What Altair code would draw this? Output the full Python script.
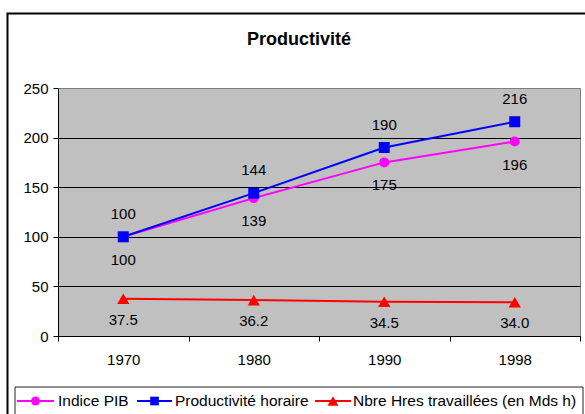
import altair as alt
import pandas as pd

years = ["1970", "1980", "1990", "1998"]
series = ["Indice PIB", "Productivité horaire", "Nbre Hres travaillées (en Mds h)"]
indice_pib = [100, 139, 175, 196]
productivite = [100, 144, 190, 216]
heures = [37.5, 36.2, 34.5, 34.0]
y_ticks = [0, 50, 100, 150, 200, 250]
title_text = "Productivité"

colors = ["#FF00FF", "#0000FF", "#FF0000"]
shapes = ["circle", "square", "triangle-up"]
marker_sizes = [100, 121, 150]
legend_sizes = [80, 75, 120]
label_dy = [23, -23, 21]
formats = ["{:.0f}", "{:.0f}", "{:.1f}"]

rows = []
for s, vals, fmt in zip(series, [indice_pib, productivite, heures], formats):
    for yr, v in zip(years, vals):
        rows.append({"year": yr, "series": s, "value": v, "label": fmt.format(v)})
df = pd.DataFrame(rows)

FONT = "Liberation Sans"
W, H = 522, 248

x_enc = alt.X(
    "year:N", sort=years,
    scale=alt.Scale(paddingInner=0, paddingOuter=0),
    axis=alt.Axis(title=None, labelAngle=0, tickBand="extent", grid=False,
                  tickSize=5, labelPadding=11, labelFontSize=15, labelFont=FONT,
                  labelColor="black", domainColor="black", tickColor="black"),
)
y_enc = alt.Y(
    "value:Q",
    scale=alt.Scale(domain=[0, 250], nice=False, zero=True),
    axis=alt.Axis(title=None, values=y_ticks, grid=True,
                  gridColor={"condition": {"test": "datum.value === 250", "value": "#808080"}, "value": "black"},
                  gridWidth=1, tickSize=5, labelPadding=5, labelFontSize=15,
                  labelFont=FONT, labelColor="black", domainColor="black", tickColor="black"),
)
color_enc = alt.Color("series:N", scale=alt.Scale(domain=series, range=colors), legend=None)

base = alt.Chart(df)
layers = []

one = pd.DataFrame({"k": [0]})
# outer frame
layers.append(
    alt.Chart(one).mark_rect(fillOpacity=0, stroke="black", strokeWidth=2).encode(
        x=alt.value(-50.5), x2=alt.value(560), y=alt.value(-74.5), y2=alt.value(420))
)

layers.append(base.mark_line(strokeWidth=2).encode(x=x_enc, y=y_enc, color=color_enc, detail="series:N"))

for i, s in enumerate(series):
    sub = base.transform_filter(alt.datum.series == s)
    layers.append(sub.mark_point(shape=shapes[i], filled=True, size=marker_sizes[i],
                                 color=colors[i], opacity=1).encode(x=x_enc, y=y_enc))
    layers.append(sub.mark_text(dy=label_dy[i], fontSize=15, font=FONT, color="black",
                                baseline="middle").encode(x=x_enc, y=y_enc, text="label:N"))

# title
layers.append(
    alt.Chart(one).mark_text(text=title_text, fontSize=18, fontWeight="bold", font=FONT,
                             color="black", baseline="alphabetic").encode(
        x=alt.value(241), y=alt.value(-43))
)

# legend box
layers.append(
    alt.Chart(one).mark_rect(fillOpacity=0, stroke="#222222", strokeWidth=1).encode(
        x=alt.value(-43), x2=alt.value(525), y=alt.value(299), y2=alt.value(360))
)
leg_y = 313
leg_line = [(-41, -4), (79, 114), (257, 293)]
leg_text_x = [0, 117, 295]
for i, s in enumerate(series):
    d = pd.DataFrame({"series": [s]})
    x0, x1 = leg_line[i]
    layers.append(alt.Chart(d).mark_rule(color=colors[i], strokeWidth=2).encode(
        x=alt.value(x0), x2=alt.value(x1), y=alt.value(leg_y)))
    layers.append(alt.Chart(d).mark_point(shape=shapes[i], filled=True, size=legend_sizes[i],
                                          color=colors[i], opacity=1).encode(
        x=alt.value((x0 + x1) / 2), y=alt.value(leg_y)))
    layers.append(alt.Chart(d).mark_text(align="left", baseline="middle", fontSize=15.5,
                                         font=FONT, color="black").encode(
        x=alt.value(leg_text_x[i]), y=alt.value(leg_y), text="series:N"))

chart = alt.layer(*layers).properties(
    width=W, height=H,
    autosize=alt.AutoSizeParams(type="none"),
    padding={"left": 58, "top": 88, "right": 5, "bottom": 78},
    background="white",
).configure_view(fill="#C0C0C0", stroke="#808080", strokeWidth=1)

chart.save("out.html", embed_options={"renderer": "svg", "actions": False})
